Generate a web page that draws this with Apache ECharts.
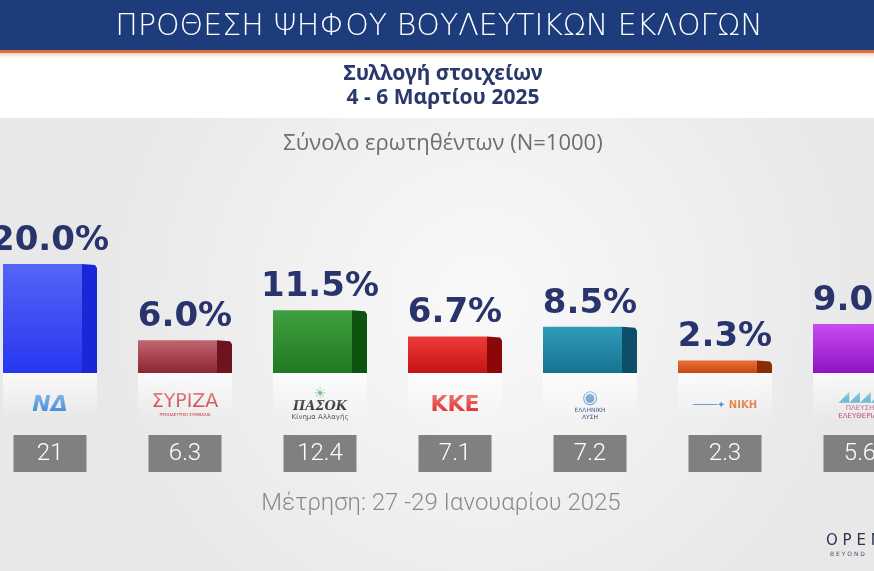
<!DOCTYPE html>
<html>
<head>
<meta charset="utf-8">
<script src="https://cdn.jsdelivr.net/npm/echarts@6/dist/echarts.min.js"></script>
<style>
  html, body { margin: 0; padding: 0; background: #fff; }
  #chart { width: 874px; height: 571px; }
</style>
</head>
<body>
<div id="chart"></div>
<script>
// poll data
var parties = ["ΝΔ", "ΣΥΡΙΖΑ", "ΠΑΣΟΚ", "ΚΚΕ", "Ελληνική Λύση", "ΝΙΚΗ", "Πλεύση Ελευθερίας"];
var current = [20.0, 6.0, 11.5, 6.7, 8.5, 2.3, 9.0];
var previous = [21, 6.3, 12.4, 7.1, 7.2, 2.3, 5.6];

// front top / front bottom / side colours
var palette = [
  ["#5465f6", "#2636ef", "#1a27d8"],
  ["#c06670", "#8c2433", "#6e1420"],
  ["#40a040", "#1f7a22", "#0c5410"],
  ["#ee3a3a", "#c41414", "#8c0808"],
  ["#2e9cbb", "#18728f", "#0c4f66"],
  ["#ec7038", "#c44812", "#8a2c06"],
  ["#c84cf2", "#8e14c4", "#66089a"]
];

var logoText = [
  "{nd|ΝΔ}",
  "{syr|ΣΥΡΙΖΑ}\n{syrs|ΠΡΟΟΔΕΥΤΙΚΗ ΣΥΜΜΑΧΙΑ}",
  "{sun|☀}\n{pasok|ΠΑΣΟΚ}\n{pasoks|Κίνημα Αλλαγής}",
  "{kke|ΚΚΕ}",
  "{el|◉}\n{els|ΕΛΛΗΝΙΚΗ}\n{els|ΛΥΣΗ}",
  "{nikl|────✦}{nik| ΝΙΚΗ}",
  "{pl|◢◢◢◢}\n{pls|ΠΛΕΥΣΗ}\n{pls|ΕΛΕΥΘΕΡΙΑΣ}"
];

var myChart = echarts.init(document.getElementById("chart"), null, { renderer: "canvas" });

function renderBar(params, api) {
  var idx = params.dataIndex;
  var top = api.coord([api.value(0), api.value(1)]);
  var base = api.coord([api.value(0), 0]);
  var c = top[0];
  var col = palette[idx];
  var left = c - 47, mid = c + 32, right = c + 47;
  return {
    type: "group",
    children: [
      {
        type: "rect",
        shape: { x: left, y: base[1], width: right - left, height: 46 },
        style: {
          fill: new echarts.graphic.LinearGradient(0, 0, 0, 1, [
            { offset: 0, color: "rgba(255,255,255,0.75)" },
            { offset: 1, color: "rgba(255,255,255,0)" }
          ])
        }
      },
      {
        type: "rect",
        shape: { x: left, y: top[1], width: mid - left, height: base[1] - top[1] },
        style: {
          fill: new echarts.graphic.LinearGradient(0, 0, 0, 1, [
            { offset: 0, color: col[0] },
            { offset: 1, color: col[1] }
          ])
        }
      },
      {
        type: "polygon",
        shape: {
          points: [[mid, top[1]], [right - 2, top[1] + 1], [right, top[1] + 4], [right, base[1]], [mid, base[1]]]
        },
        style: { fill: col[2] }
      },
      {
        type: "text",
        x: c,
        y: top[1] - 6,
        style: {
          text: api.value(1).toFixed(1) + "%",
          align: "center",
          verticalAlign: "bottom",
          font: "bold 34px 'DejaVu Sans'",
          fill: "#29346c"
        }
      }
    ]
  };
}

var option = {
  animation: false,
  graphic: [
    { type: "rect", z: -10, shape: { x: 0, y: 118, width: 874, height: 453 },
      style: { fill: new echarts.graphic.RadialGradient(0.55, 0.4, 0.85, [
        { offset: 0, color: "#f9f9f9" },
        { offset: 1, color: "#e8e8e9" }
      ]) } },
    { type: "rect", z: -5, shape: { x: 0, y: 0, width: 874, height: 50 }, style: { fill: "#1d3c7c" } },
    { type: "rect", z: -5, shape: { x: 0, y: 50, width: 874, height: 3 }, style: { fill: "#d8703c" } },
    { type: "rect", z: -5, shape: { x: 0, y: 53, width: 874, height: 5 },
      style: { fill: new echarts.graphic.LinearGradient(0, 0, 0, 1, [
        { offset: 0, color: "#f3d2bd" }, { offset: 1, color: "#ffffff" }]) } },
    { type: "text", x: 439, y: 27, style: {
      text: "ΠΡΟΘΕΣΗ ΨΗΦΟΥ ΒΟΥΛΕΥΤΙΚΩΝ ΕΚΛΟΓΩΝ", align: "center", verticalAlign: "middle",
      font: "200 30px 'DejaVu Sans'", fill: "#ffffff" } },
    { type: "text", x: 443, y: 74, style: {
      text: "Συλλογή στοιχείων", align: "center", verticalAlign: "middle",
      font: "bold 21px 'Noto Sans'", fill: "#2a386c" } },
    { type: "text", x: 443, y: 98, style: {
      text: "4 - 6 Μαρτίου 2025", align: "center", verticalAlign: "middle",
      font: "bold 21px 'Noto Sans'", fill: "#2a386c" } },
    { type: "text", x: 443, y: 144, style: {
      text: "Σύνολο ερωτηθέντων (N=1000)", align: "center", verticalAlign: "middle",
      font: "22px 'Open Sans'", fill: "#6e6e6e" } },
    { type: "text", x: 441, y: 504, style: {
      text: "Μέτρηση: 27 -29 Ιανουαρίου 2025", align: "center", verticalAlign: "middle",
      font: "300 24px Roboto", fill: "#8a8a8a" } },
    { type: "text", x: 826, y: 541, style: {
      text: "O P E N", align: "left", verticalAlign: "middle",
      font: "15px 'DejaVu Sans'", fill: "#2c3350" } },
    { type: "text", x: 830, y: 554, style: {
      text: "B E Y O N D", align: "left", verticalAlign: "middle",
      font: "6px 'DejaVu Sans'", fill: "#4a5068" } }
  ],
  grid: { left: 50, right: 14, top: 155, bottom: 198, outerBoundsMode: "none", containLabel: false },
  xAxis: [
    {
      type: "category",
      data: parties,
      boundaryGap: false,
      axisLine: { show: false },
      axisTick: { show: false },
      axisLabel: {
        interval: 0,
        margin: 32,
        verticalAlign: "middle",
        formatter: function (value, index) { return logoText[index]; },
        rich: {
          nd: { fontSize: 22, fontWeight: "bold", fontStyle: "italic", color: "#2f7fd6", fontFamily: "DejaVu Sans" },
          syr: { fontSize: 19, color: "#c8202a", fontFamily: "DejaVu Sans", lineHeight: 20 },
          syrs: { fontSize: 4, color: "#c8202a", fontFamily: "DejaVu Sans", lineHeight: 6 },
          sun: { fontSize: 14, color: "#1f8a2a", fontFamily: "DejaVu Sans", lineHeight: 12 },
          pasok: { fontSize: 13, fontWeight: "bold", fontStyle: "italic", color: "#111", fontFamily: "DejaVu Serif", lineHeight: 13 },
          pasoks: { fontSize: 7, color: "#555", fontFamily: "DejaVu Sans", lineHeight: 8 },
          kke: { fontSize: 22, fontWeight: "bold", color: "#e01818", fontFamily: "DejaVu Sans" },
          el: { fontSize: 18, color: "#3f82c0", fontFamily: "DejaVu Sans", lineHeight: 17 },
          els: { fontSize: 6, color: "#2a3a70", fontFamily: "DejaVu Sans", lineHeight: 7 },
          nikl: { fontSize: 10, color: "#2c6fc2", fontFamily: "DejaVu Sans" },
          nik: { fontSize: 10, fontWeight: "bold", color: "#e06020", fontFamily: "DejaVu Sans" },
          pl: { fontSize: 14, color: "#35a0c8", fontFamily: "DejaVu Sans", lineHeight: 15 },
          pls: { fontSize: 7, color: "#c0407a", fontFamily: "DejaVu Sans", lineHeight: 8 }
        }
      }
    },
    {
      type: "category",
      data: parties,
      boundaryGap: false,
      position: "bottom",
      offset: 62,
      axisLine: { show: false },
      axisTick: { show: false },
      axisLabel: {
        interval: 0,
        margin: 0,
        formatter: function (value, index) { return String(previous[index]); },
        color: "#ffffff",
        fontSize: 24,
        fontWeight: 300,
        fontFamily: "Roboto",
        backgroundColor: "#808080",
        width: 73,
        height: 37,
        lineHeight: 37,
        align: "center",
        verticalAlign: "top"
      }
    }
  ],
  yAxis: { type: "value", min: 0, max: 40, show: false },
  series: [
    {
      type: "custom",
      renderItem: renderBar,
      encode: { x: 0, y: 1 },
      data: current.map(function (v, i) { return [i, v]; })
    }
  ]
};

myChart.setOption(option);
</script>
</body>
</html>
